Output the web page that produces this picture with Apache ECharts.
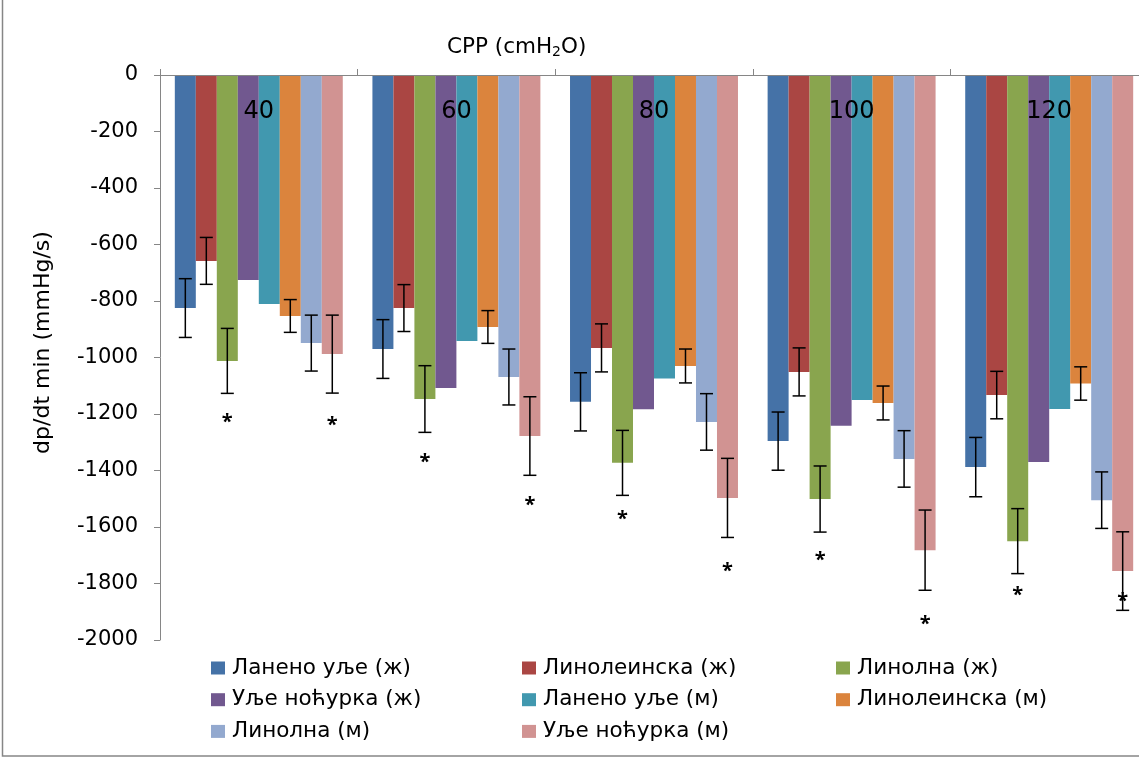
<!DOCTYPE html>
<html>
<head>
<meta charset="utf-8">
<script src="https://cdn.jsdelivr.net/npm/echarts@6/dist/echarts.min.js"></script>
<style>
html,body{margin:0;padding:0;background:#fff;overflow:hidden;width:1139px;height:758px;}
#chart{width:1150px;height:758px;}
</style>
</head>
<body>
<div id="chart"></div>
<script>
// ---- data ----
const categories = ['40', '60', '80', '100', '120'];
const seriesNames = ['Ланено уље (ж)', 'Линолеинска (ж)', 'Линолна (ж)', 'Уље ноћурка (ж)',
                     'Ланено уље (м)', 'Линолеинска (м)', 'Линолна (м)', 'Уље ноћурка (м)'];
const flaxF      = [-825, -970, -1157, -1296, -1388];
const linoleicF  = [-658, -825, -966, -1051, -1133];
const linolenicF = [-1012, -1147, -1373, -1501, -1650];
const primroseF  = [-726, -1108, -1183, -1242, -1370];
const flaxM      = [-811, -942, -1074, -1150, -1182];
const linoleicM  = [-853, -892, -1030, -1161, -1092];
const linolenicM = [-949, -1069, -1228, -1359, -1505];
const primroseM  = [-988, -1278, -1497, -1682, -1756];
// error bar half-lengths (null = no error bar drawn)
const errFlaxF      = [104, 104, 103, 103, 105];
const errLinoleicF  = [83, 83, 85, 85, 84];
const errLinolenicF = [115, 118, 115, 117, 115];
const errPrimroseF  = null;
const errFlaxM      = null;
const errLinoleicM  = [58, 58, 60, 60, 59];
const errLinolenicM = [99, 99, 100, 100, 100];
const errPrimroseM  = [138, 139, 140, 142, 139];
// significance marks (*) positions, value units
const starLinolenicF = [-1211, -1352, -1556, -1699, -1825];
const starPrimroseM  = [-1221, -1504, -1738, -1926, -1844];

const values = [flaxF, linoleicF, linolenicF, primroseF, flaxM, linoleicM, linolenicM, primroseM];
const errors = [errFlaxF, errLinoleicF, errLinolenicF, errPrimroseF, errFlaxM, errLinoleicM, errLinolenicM, errPrimroseM];
const colors = ['#4572A7', '#AA4643', '#89A54E', '#71588F', '#4198AF', '#DB843D', '#93A9CF', '#D19392'];

const FONT = '"DejaVu Sans", "Open Sans", sans-serif';
const NB = values.length;
const CAT_GAP = 0.15;

function barX(api, ci, k, v) {
  const c = api.coord([ci, v]);
  const band = api.size([1, 0])[0];
  const bw = band * (1 - CAT_GAP) / NB;
  return c[0] - (NB / 2) * bw + (k + 0.5) * bw;
}

const series = [];
values.forEach((vals, k) => {
  series.push({
    name: seriesNames[k], type: 'bar', data: vals,
    barGap: '0%', barCategoryGap: (CAT_GAP * 100) + '%',
    itemStyle: { color: colors[k] }, z: 2
  });
});
values.forEach((vals, k) => {
  const err = errors[k];
  if (!err) return;
  series.push({
    type: 'custom', z: 5, silent: true,
    data: vals.map((v, i) => [i, v, err[i]]),
    renderItem: (params, api) => {
      const ci = api.value(0), v = api.value(1), e = api.value(2);
      const x = barX(api, ci, k, v);
      const yTop = api.coord([ci, v + e])[1];
      const yBot = api.coord([ci, v - e])[1];
      const hw = 6.5;
      const st = { stroke: '#000', lineWidth: 1.5 };
      return { type: 'group', children: [
        { type: 'line', shape: { x1: x, y1: yTop, x2: x, y2: yBot }, style: st },
        { type: 'line', shape: { x1: x - hw, y1: yTop, x2: x + hw, y2: yTop }, style: st },
        { type: 'line', shape: { x1: x - hw, y1: yBot, x2: x + hw, y2: yBot }, style: st }
      ]};
    }
  });
});
[[2, starLinolenicF], [7, starPrimroseM]].forEach(([k, stars]) => {
  series.push({
    type: 'custom', z: 6, silent: true,
    data: stars.map((v, i) => [i, v]),
    renderItem: (params, api) => {
      const ci = api.value(0), v = api.value(1);
      const x = barX(api, ci, k, v);
      const y = api.coord([ci, v])[1];
      return { type: 'text', x: x, y: y + 5,
        style: { text: '*', fill: '#000', font: 'bold 20px "Open Sans", sans-serif', align: 'center', verticalAlign: 'middle' } };
    }
  });
});

const legendCols = [[0, 3, 6], [1, 4, 7], [2, 5]];
const legendLefts = [211, 522, 836];
const legends = legendCols.map((idx, c) => ({
  data: idx.map(i => seriesNames[i]),
  orient: 'vertical', left: legendLefts[c], top: 657, padding: 0,
  itemWidth: 14, itemHeight: 13, itemGap: 9.7, icon: 'rect',
  selectedMode: false,
  textStyle: { fontFamily: FONT, fontSize: 21.5, color: '#000', lineHeight: 22, padding: [0, 0, 0, 2] }
}));

const option = {
  animation: false,
  backgroundColor: '#fff',
  title: {
    text: 'CPP (cmH{sub|2}O)', left: 447, top: 35, padding: 0,
    textStyle: { fontFamily: FONT, fontSize: 21.5, fontWeight: 'normal', color: '#000',
      rich: { sub: { fontFamily: FONT, fontSize: 14, color: '#000', padding: [10, 0, 0, 0] } } }
  },
  legend: legends,
  grid: { left: 160, right: 2, top: 75, height: 565, containLabel: false },
  xAxis: {
    type: 'category', position: 'top', data: categories, z: 10,
    axisLine: { show: true, lineStyle: { color: '#868686', width: 1 } },
    axisTick: { show: true, length: 6, lineStyle: { color: '#868686' } },
    axisLabel: { inside: true, margin: 25, fontFamily: FONT, fontSize: 24, color: '#000' },
    splitLine: { show: false }
  },
  yAxis: {
    type: 'value', min: -2000, max: 0, interval: 200,
    name: 'dp/dt min (mmHg/s)', nameLocation: 'middle', nameGap: 106,
    nameTextStyle: { fontFamily: FONT, fontSize: 22, color: '#000', padding: [0, 0, 0, 30] },
    axisLine: { show: true, lineStyle: { color: '#868686', width: 1 } },
    axisTick: { show: true, length: 6, lineStyle: { color: '#868686' } },
    axisLabel: { margin: 22, fontFamily: FONT, fontSize: 21, color: '#000', formatter: v => String(v) },
    splitLine: { show: false }
  },
  graphic: [{
    type: 'rect', shape: { x: 2.5, y: -5, width: 1160, height: 761 },
    style: { fill: 'none', stroke: '#868686', lineWidth: 1.5 }, silent: true, z: -1
  }],
  series: series
};

const chart = echarts.init(document.getElementById('chart'), null, { renderer: 'canvas' });
chart.setOption(option);
</script>
</body>
</html>
